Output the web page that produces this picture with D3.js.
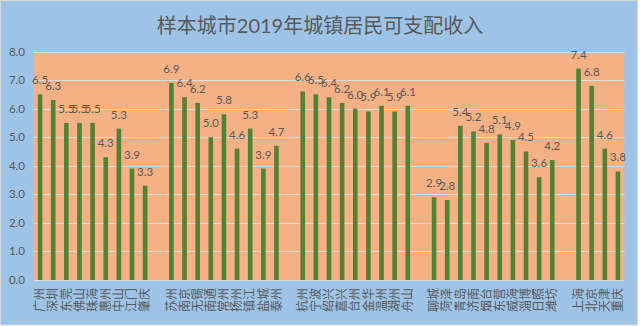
<!DOCTYPE html>
<html>
<head>
<meta charset="utf-8">
<script src="https://d3js.org/d3.v7.min.js"></script>
<style>
  body { margin: 0; background: #fff; }
  svg text { font-family: "Lato", "Noto Sans CJK SC", sans-serif; fill: #595959; }
</style>
</head>
<body>
<div id="chart"></div>
<script>
    (function() {
        // disposable income per city, 10k yuan, grouped by region
        const gdCities = ["广州", "深圳", "东莞", "佛山", "珠海", "惠州", "中山", "江门", "肇庆"];
        const gdValues = [6.5, 6.3, 5.5, 5.5, 5.5, 4.3, 5.3, 3.9, 3.3];
        const jsCities = ["苏州", "南京", "无锡", "南通", "常州", "扬州", "镇江", "盐城", "泰州"];
        const jsValues = [6.9, 6.4, 6.2, 5.0, 5.8, 4.6, 5.3, 3.9, 4.7];
        const zjCities = ["杭州", "宁波", "绍兴", "嘉兴", "台州", "金华", "温州", "湖州", "舟山"];
        const zjValues = [6.6, 6.5, 6.4, 6.2, 6.0, 5.9, 6.1, 5.9, 6.1];
        const sdCities = ["聊城", "菏泽", "青岛", "济南", "烟台", "东营", "威海", "淄博", "日照", "潍坊"];
        const sdValues = [2.9, 2.8, 5.4, 5.2, 4.8, 5.1, 4.9, 4.5, 3.6, 4.2];
        const zxCities = ["上海", "北京", "天津", "重庆"];
        const zxValues = [7.4, 6.8, 4.6, 3.8];
        const yTicks = [0, 1, 2, 3, 4, 5, 6, 7, 8];

        const title = "样本城市2019年城镇居民可支配收入";

        // flatten groups with an empty slot between each
        const groups = [[gdCities, gdValues], [jsCities, jsValues], [zjCities, zjValues],
                        [sdCities, sdValues], [zxCities, zxValues]];
        let data = [];
        groups.forEach(function(g, gi) {
            if (gi > 0) data.push({key: "gap" + gi, name: "", value: null});
            g[0].forEach(function(c, i) {
                data.push({key: c, name: c, value: g[1][i]});
            });
        });

        const width = 640, height = 326;
        const plot = {left: 33.5, right: 624.5, top: 51.5, bottom: 280};

        const svg = d3.select("#chart").append("svg")
            .attr("width", width)
            .attr("height", height);

        svg.append("rect")
            .attr("x", 0.5).attr("y", 0.5)
            .attr("width", width - 3).attr("height", height - 1.5)
            .attr("fill", "#9dc3e6")
            .attr("stroke", "#d9d9d9");

        svg.append("rect")
            .attr("x", plot.left).attr("y", plot.top)
            .attr("width", plot.right - plot.left)
            .attr("height", plot.bottom - plot.top)
            .attr("fill", "#f4b183");

        const x = d3.scaleBand()
            .domain(data.map(d => d.key))
            .range([plot.left, plot.right])
            .paddingInner(0.65)
            .paddingOuter(0.325);

        const y = d3.scaleLinear()
            .domain([0, 8])
            .range([plot.bottom, plot.top]);

        // gridlines
        svg.append("g")
            .selectAll("line")
            .data(yTicks)
            .enter()
            .append("line")
            .attr("x1", plot.left)
            .attr("x2", plot.right)
            .attr("y1", d => Math.round(y(d)) + 0.5)
            .attr("y2", d => Math.round(y(d)) + 0.5)
            .attr("stroke", "#dcdcdc")
            .attr("stroke-width", 1.2);

        // y axis labels
        svg.append("g")
            .selectAll("text")
            .data(yTicks)
            .enter()
            .append("text")
            .attr("x", 25)
            .attr("y", d => y(d))
            .attr("dy", "0.35em")
            .attr("text-anchor", "end")
            .style("font-size", "11.5px")
            .text(d => d3.format(".1f")(d));

        const bars = data.filter(d => d.value !== null);

        svg.append("g")
            .selectAll("rect")
            .data(bars)
            .enter()
            .append("rect")
            .attr("x", d => x(d.key))
            .attr("y", d => y(d.value))
            .attr("width", x.bandwidth())
            .attr("height", d => y(0) - y(d.value))
            .attr("fill", "#548235");

        // value labels
        svg.append("g")
            .selectAll("text")
            .data(bars)
            .enter()
            .append("text")
            .attr("x", d => x(d.key) + x.bandwidth() / 2)
            .attr("y", d => y(d.value) - 10)
            .attr("text-anchor", "middle")
            .style("font-size", "11.5px")
            .text(d => d3.format(".1f")(d.value));

        // city names, rotated to read bottom-up
        svg.append("g")
            .selectAll("text")
            .data(bars)
            .enter()
            .append("text")
            .attr("transform", d => "translate(" + (x(d.key) + x.bandwidth() / 2) + "," + 288 + ") rotate(-90)")
            .attr("dy", "0.35em")
            .attr("text-anchor", "end")
            .style("font-size", "12px")
            .text(d => d.name);

        svg.append("text")
            .attr("x", 320)
            .attr("y", 26)
            .attr("dy", "0.35em")
            .attr("text-anchor", "middle")
            .style("font-size", "20px")
            .text(title);
    })();
</script>
</body>
</html>
